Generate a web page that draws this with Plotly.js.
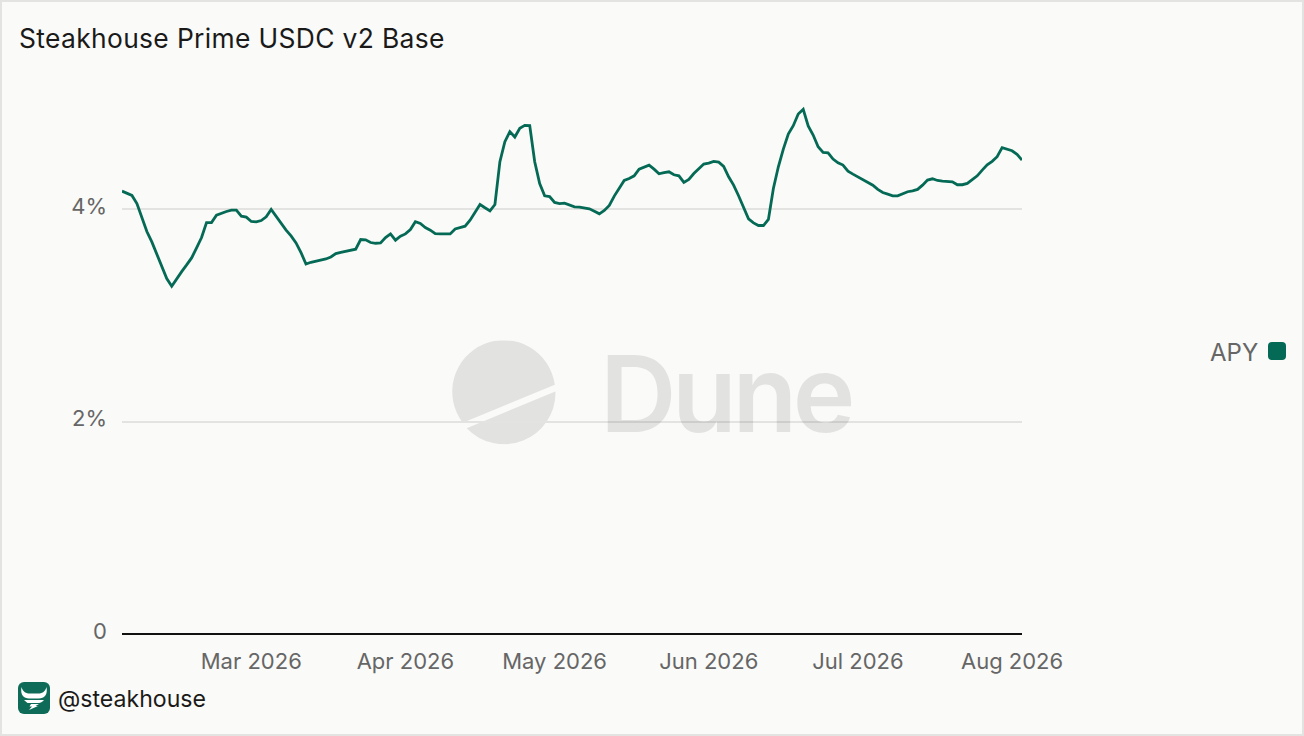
<!DOCTYPE html>
<html>
<head>
<meta charset="utf-8">
<script src="https://cdn.plot.ly/plotly-3.0.1.min.js"></script>
<style>html,body{margin:0;padding:0;background:#fafaf8;overflow:hidden}#chart{width:1304px;height:736px}
.gtitle{letter-spacing:0.35px}
.annotation[data-index="0"] text{letter-spacing:-4.5px}
</style>
</head>
<body>
<div id="chart"></div>
<script>
var apy = [
4.170,4.151,4.129,4.053,3.928,3.789,3.692,3.582,3.472,3.346,
3.274,3.346,3.412,3.475,3.541,3.635,3.733,3.874,3.874,3.943,
3.962,3.978,3.991,3.991,3.934,3.925,3.884,3.881,3.893,3.928,
3.997,3.928,3.868,3.802,3.748,3.682,3.591,3.484,3.500,3.509,
3.519,3.531,3.550,3.582,3.594,3.604,3.610,3.623,3.714,3.711,
3.686,3.679,3.682,3.733,3.767,3.708,3.745,3.767,3.808,3.881,
3.865,3.827,3.802,3.770,3.767,3.767,3.767,3.814,3.830,3.840,
3.896,3.965,4.044,4.013,3.984,4.044,4.447,4.635,4.730,4.679,
4.761,4.789,4.786,4.447,4.242,4.126,4.119,4.063,4.053,4.057,
4.038,4.022,4.019,4.013,4.003,3.981,3.956,3.987,4.035,4.123,
4.198,4.270,4.289,4.314,4.377,4.399,4.415,4.377,4.333,4.343,
4.352,4.324,4.314,4.252,4.280,4.336,4.377,4.425,4.434,4.450,
4.443,4.403,4.305,4.226,4.126,4.019,3.909,3.871,3.846,3.846,
3.903,4.195,4.399,4.566,4.708,4.786,4.896,4.940,4.783,4.698,
4.588,4.535,4.531,4.472,4.437,4.415,4.358,4.330,4.305,4.274,
4.252,4.226,4.186,4.157,4.142,4.126,4.126,4.148,4.164,4.173,
4.186,4.226,4.274,4.286,4.270,4.264,4.261,4.258,4.230,4.230,
4.242,4.280,4.314,4.368,4.418,4.450,4.494,4.579,4.566,4.550,
4.516,4.462
];
var yTicks = [0, 2, 4];
var yLabels = ['0', '2%', '4%'];
var xTicks = ['2026-03-01','2026-04-01','2026-05-01','2026-06-01','2026-07-01','2026-08-01'];
var xLabels = ['Mar 2026','Apr 2026','May 2026','Jun 2026','Jul 2026','Aug 2026'];
var titleText = 'Steakhouse Prime USDC v2 Base';
var seriesName = 'APY';
var handle = '@steakhouse';

var dates = apy.map(function(_, i){
  var d = new Date(Date.UTC(2026, 1, 3 + i));
  return d.toISOString().slice(0, 10);
});

var W = 1304, H = 736;
var M = {l:122, r:W-1022, t:61, b:102};
function px(x){ return (x - M.l) / (W - M.l - M.r); }
function py(y){ return 1 - (y - M.t) / (H - M.t - M.b); }
var FONT = 'Inter, sans-serif';
var GREEN = '#056a55';

function svg(s){ return 'data:image/svg+xml;charset=utf-8,' + encodeURIComponent(s); }
var duneMark = '<svg xmlns="http://www.w3.org/2000/svg" viewBox="0 0 104 104" width="104" height="104">'
 + '<path fill="#e2e2e0" d="M102.8 44.3 A51.5 51.5 0 1 0 10.7 82.2 Z"/>'
 + '<path fill="#e2e2e0" d="M103.3 51 L14.7 87.7 A51.5 51.5 0 0 0 103.5 52 Z"/></svg>';
var logo = '<svg xmlns="http://www.w3.org/2000/svg" viewBox="0 0 32 32" width="32" height="32">'
 + '<rect width="32" height="32" rx="6" fill="#0e6b57"/>'
 + '<path fill="#fff" d="M3.5 5 C5 10 8 11.5 12 11.5 L20 11.5 C24 11.5 27 10 28.5 5 C30 13 26 16.5 21 16.5 L11 16.5 C6 16.5 2 13 3.5 5 Z"/>'
 + '<path fill="#fff" d="M6 18 L26 18 C24 20.5 22 21 19 21 L14 21 L9.5 21 Z"/>'
 + '<path fill="#fff" d="M13 22 L21 22 L17.5 24 L20 24 L11 28 L14 24.5 L11.5 24.5 Z"/></svg>';

Plotly.newPlot('chart', [{
  type: 'scatter', mode: 'lines', name: seriesName,
  x: dates, y: apy,
  line: {color: GREEN, width: 2.8, shape: 'linear'},
  hoverinfo: 'x+y', showlegend: false
}], {
  width: W, height: H,
  paper_bgcolor: '#fafaf8', plot_bgcolor: 'rgba(0,0,0,0)',
  margin: M, showlegend: false,
  font: {family: FONT, color: '#666666', size: 22},
  title: {text: titleText, x: 19/W, xanchor: 'left', y: 1-39/H, yanchor: 'middle',
          font: {family: FONT, size: 26.4, color: '#1a1a1a'}},
  xaxis: {type: 'date', range: ['2026-02-03', '2026-08-03'], tickmode: 'array',
          tickvals: xTicks, ticktext: xLabels, showgrid: false, zeroline: false,
          showline: false, ticks: '', ticklabelstandoff: 12,
          tickfont: {family: FONT, size: 22, color: '#666666'}},
  yaxis: {range: [0, 5.395], tickmode: 'array', tickvals: yTicks, ticktext: yLabels,
          showgrid: true, gridcolor: '#e3e3e1', gridwidth: 2, zeroline: true,
          zerolinecolor: '#111111', zerolinewidth: 2, showline: false, ticks: '',
          ticklabelstandoff: 14, ticklabelshift: -3,
          tickfont: {family: FONT, size: 22, color: '#666666'}},
  images: [
    {source: svg(duneMark), xref: 'paper', yref: 'paper', x: px(452), y: py(340.5), sizex: 104/900, sizey: 104/(H-M.t-M.b),
     sizing: 'stretch', xanchor: 'left', yanchor: 'top', layer: 'below'},
    {source: svg(logo), xref: 'paper', yref: 'paper', x: px(18), y: py(682), sizex: 32/900, sizey: 32/(H-M.t-M.b),
     sizing: 'stretch', xanchor: 'left', yanchor: 'top', layer: 'above'}
  ],
  shapes: [
    {type: 'rect', xref: 'paper', yref: 'paper', x0: px(1), x1: px(1303), y0: py(1), y1: py(735),
     line: {color: '#e3e3e1', width: 2}, fillcolor: 'rgba(0,0,0,0)', layer: 'below'},
    {type: 'path', xref: 'paper', yref: 'paper', fillcolor: GREEN, line: {width: 0},
     path: 'M'+px(1272)+','+py(342)+' L'+px(1282)+','+py(342)+' Q'+px(1286)+','+py(342)+' '+px(1286)+','+py(346)
         +' L'+px(1286)+','+py(356)+' Q'+px(1286)+','+py(360)+' '+px(1282)+','+py(360)
         +' L'+px(1272)+','+py(360)+' Q'+px(1268)+','+py(360)+' '+px(1268)+','+py(356)
         +' L'+px(1268)+','+py(346)+' Q'+px(1268)+','+py(342)+' '+px(1272)+','+py(342)+' Z'}
  ],
  annotations: [
    {text: 'Dune', xref: 'paper', yref: 'paper', x: px(589), y: py(393), xanchor: 'left', yanchor: 'middle', showarrow: false,
     font: {family: FONT, size: 106, weight: 600, color: 'rgba(0,0,0,0.095)'}},
    {text: seriesName, xref: 'paper', yref: 'paper', x: px(1260), y: py(352), xanchor: 'right', yanchor: 'middle', showarrow: false,
     font: {family: FONT, size: 24, color: '#666666'}},
    {text: handle, xref: 'paper', yref: 'paper', x: px(55.5), y: py(699), xanchor: 'left', yanchor: 'middle', showarrow: false,
     font: {family: FONT, size: 23.1, color: '#1a1a1a'}}
  ]
}, {displayModeBar: false, staticPlot: true});
</script>
</body>
</html>
